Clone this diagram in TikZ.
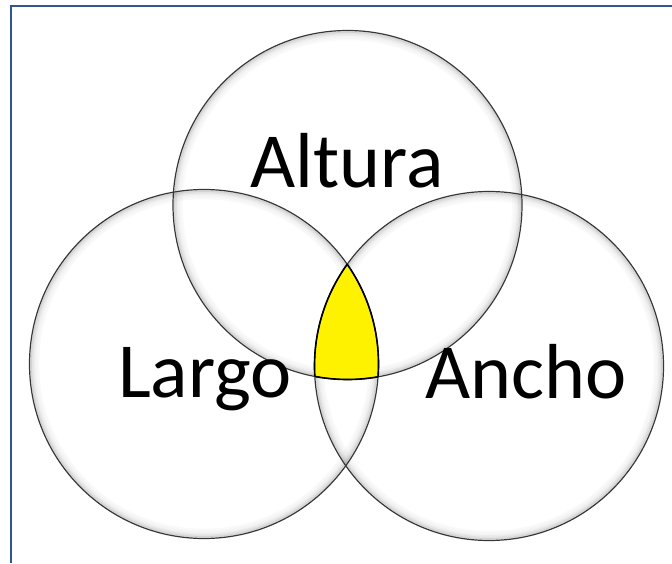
\documentclass[tikz,border=0pt]{standalone}
\usepackage{fontspec}
\setmainfont{Carlito}
\definecolor{frameblue}{RGB}{47,85,151}
\definecolor{ringgray}{RGB}{55,55,55}
\tikzset{
  ring/.style={draw=ringgray, line width=1.2pt},
  lbl/.style={font=\fontsize{78}{80}\selectfont, text=black, inner sep=0pt, anchor=base},
  framelinestyle/.style={draw=frameblue, line width=2pt}
}
\newcommand{\rr}{174.5}
\begin{document}
\begin{tikzpicture}[x=1pt,y=1pt]
\useasboundingbox (0,0) rectangle (672,563);
\fill[white] (0,0) rectangle (672,563);
% frame (top and left only)
\coordinate (fa) at (11,0);
\coordinate (fb) at (11,556.5);
\coordinate (fc) at (672,556.5);
\draw[framelinestyle] (fa) -- (fb) -- (fc);
% circle centres
\coordinate (alt) at (347.5,358);
\coordinate (lar) at (204,199);
\coordinate (anc) at (489,197);
% inner soft shadows
\foreach \c in {alt,lar,anc}{
  \foreach \k/\o in {1.5/0.16,3/0.11,4.5/0.07,6/0.045,7.5/0.03,9/0.018}{
    \draw[black, opacity=\o, line width=1.5pt] (\c) circle (\rr-\k);
  }
}
% yellow triple intersection
\begin{scope}
  \clip (lar) circle (\rr);
  \clip (anc) circle (\rr);
  \fill[yellow] (alt) circle (\rr);
\end{scope}
% circle outlines
\node[circle, minimum size=349pt, inner sep=0pt, ring] (altura) at (alt) {};
\node[circle, minimum size=349pt, inner sep=0pt, ring] (largo) at (lar) {};
\node[circle, minimum size=349pt, inner sep=0pt, ring] (ancho) at (anc) {};
% darker outline of the yellow region
\begin{scope}
  \clip (lar) circle (\rr); \clip (anc) circle (\rr);
  \draw[black, line width=1.6pt] (alt) circle (\rr);
\end{scope}
\begin{scope}
  \clip (alt) circle (\rr); \clip (anc) circle (\rr);
  \draw[black, line width=1.6pt] (lar) circle (\rr);
\end{scope}
\begin{scope}
  \clip (alt) circle (\rr); \clip (lar) circle (\rr);
  \draw[black, line width=1.6pt] (anc) circle (\rr);
\end{scope}
% labels
\node[lbl] (taltura) at (347,375) {Altura};
\node[lbl] (tlargo) at (205,166) {Largo};
\node[lbl] (tancho) at (526,165) {Ancho};
\end{tikzpicture}
\end{document}
